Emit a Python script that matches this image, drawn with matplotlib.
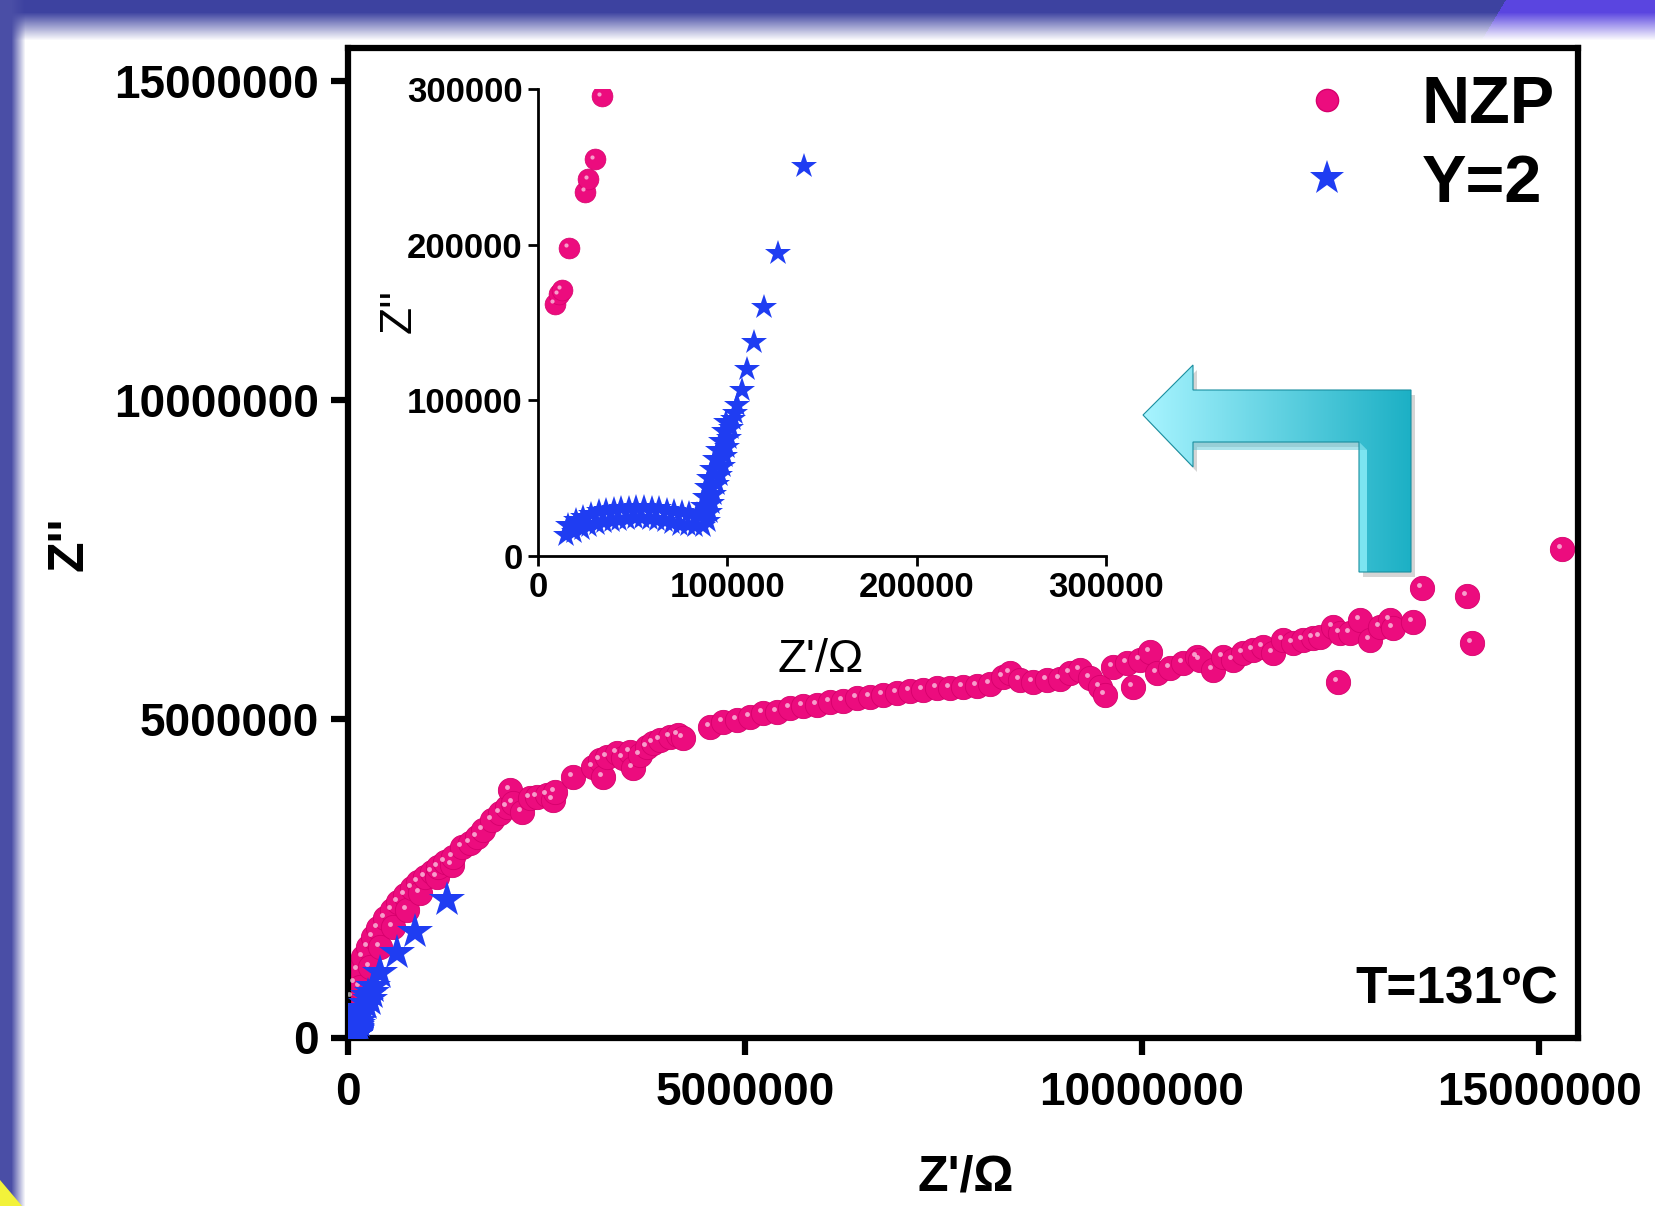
import numpy as np
import matplotlib
matplotlib.use("Agg")
import matplotlib.pyplot as plt
from matplotlib.patches import Polygon
from matplotlib.lines import Line2D
from matplotlib.ticker import FixedLocator, StrMethodFormatter
from matplotlib.transforms import offset_copy

plt.rcParams['font.family'] = ['Liberation Sans', 'DejaVu Sans']
plt.rcParams['font.weight'] = 'bold'

# === Data ===
# NZP: Z' and Z'' in ohm
nzp_x = [8930, 11040, 12500, 16290, 25070, 26430, 29950, 33800,
         25000, 46000, 88000, 130000, 151000, 193000, 256000, 277000, 319000, 382000,
         403000, 466000, 550000, 571000, 634000, 718000, 739000, 802000, 886000, 907000,
         970000, 1054000, 1117000, 1138000, 1222000, 1306000, 1327000, 1432000, 1537000,
         1621000, 1704000, 1810000, 1914000, 1998000, 2040000, 2082000, 2188000, 2292000,
         2376000, 2502000, 2586000, 2607000, 2837000,
         3089000, 3174000, 3215000, 3258000, 3384000, 3467000, 3551000, 3593000, 3677000,
         3762000, 3845000, 3929000, 4055000, 4160000, 4223000,
         4559000, 4727000, 4895000, 5063000, 5230000, 5399000, 5567000, 5734000, 5903000,
         6070000, 6238000, 6406000, 6574000, 6742000, 6910000, 7078000, 7245000, 7414000,
         7582000, 7749000, 7918000, 8085000, 8253000, 8337000, 8463000, 8631000, 8799000,
         8967000, 9093000, 9219000, 9345000, 9471000, 9534000, 9638000, 9807000, 9890000,
         9974000, 10100000, 10185000, 10352000, 10520000, 10689000,
         10730000, 10898000, 11024000, 11150000, 11276000, 11402000, 11528000, 11653000,
         11779000, 11905000, 12031000, 12157000, 12241000, 12409000, 12493000, 12619000,
         12745000, 12871000, 12997000, 13123000, 13165000, 13417000,
         12472000, 13522000, 14089000, 14152000, 15285000]
nzp_y = [161900, 168300, 171000, 198200, 234100, 242100, 254900, 295500,
         431000, 640000, 850000, 1059000, 797000, 1268000, 1425000, 1111000, 1582000, 1713000,
         1425000, 1870000, 2000000, 1739000, 2131000, 2236000, 2000000, 2341000, 2445000, 2262000,
         2523000, 2601000, 2523000, 2680000, 2758000, 2700000, 2837000, 2994000, 3046000,
         3150000, 3255000, 3412000, 3517000, 3621000, 3883000, 3674000, 3543000, 3753000,
         3778000, 3805000, 3726000, 3856000, 4092000,
         4249000, 4354000, 4092000, 4406000, 4459000, 4380000, 4484000, 4224000, 4432000,
         4563000, 4616000, 4668000, 4720000, 4746000, 4694000,
         4876000, 4955000, 4981000, 5033000, 5086000, 5112000, 5165000, 5201000, 5217000,
         5268000, 5284000, 5322000, 5338000, 5374000, 5400000, 5436000, 5452000, 5479000,
         5479000, 5504000, 5515000, 5546000, 5661000, 5714000, 5609000, 5582000, 5609000,
         5620000, 5714000, 5766000, 5636000, 5504000, 5374000, 5818000, 5871000, 5504000,
         5923000, 6053000, 5714000, 5793000, 5871000, 5975000,
         5923000, 5766000, 5975000, 5923000, 6028000, 6080000, 6132000, 6028000,
         6236000, 6184000, 6236000, 6263000, 6289000, 6446000, 6342000, 6342000,
         6550000, 6236000, 6446000, 6550000, 6420000, 6524000,
         5582000, 7048000, 6927000, 6194000, 7659000]

# Y=2
y2_x = [16000, 20000, 24000, 28000, 32000, 36000, 40000, 44000, 48000, 52000, 56000, 60000,
        64000, 68000, 72000, 76000, 80000, 84000,
        15000, 19000, 23000, 27000, 31000, 35000, 39000, 43000, 47000, 51000, 55000, 59000,
        63000, 67000, 71000, 75000, 79000, 83000, 87000,
        86000, 87000, 88000, 89000, 90500, 92000, 93500, 95000, 96500, 98000, 99500,
        90000, 91000, 92000, 93000, 94500, 96000, 97500, 99000, 100000, 101000, 102000, 103000,
        104000,
        105300, 107600, 110500, 114000, 119300, 126800, 140300,
        130000, 150000, 190000, 230000, 250000, 277000, 300000, 319000, 403000, 613000,
        844000, 1243000]
y2_y = [20000, 23000, 25000, 27000, 28500, 29500, 30000, 30500, 31000, 31500, 31500, 31000,
        30500, 29500, 28500, 28000, 27500, 27000,
        13500, 15500, 17000, 19000, 20500, 21500, 22500, 23000, 23500, 24000, 24000, 23500,
        23000, 22000, 21000, 20000, 19500, 19000, 19000,
        26000, 32000, 38000, 44000, 50000, 56000, 62000, 68000, 74000, 80000, 86000,
        22000, 28000, 34000, 40000, 46000, 52000, 58000, 64000, 70000, 76000, 82000, 88000,
        92000,
        96700, 106300, 120200, 137300, 160200, 195000, 250600,
        340000, 400000, 440000, 520000, 650000, 588000, 700000, 797000, 1007000, 1321000,
        1660000, 2157000]

main_ticks = [0, 5000000, 10000000, 15000000]
inset_ticks = [0, 100000, 200000, 300000]

PINK = '#EC0C7E'
BLUE = '#1F3DF2'

W, H = 1655, 1206
fig = plt.figure(figsize=(W / 100, H / 100), dpi=100)
fig.patch.set_facecolor('white')


def fx(x):
    return x / W


def fy(y):
    return 1 - y / H


# === Slide decorations (pixel space) ===
deco = fig.add_axes([0, 0, 1, 1], zorder=0)
deco.set_xlim(0, W)
deco.set_ylim(H, 0)
deco.axis('off')

top = np.zeros((45, W, 4))
rows = np.arange(45)[:, None]
cols = np.arange(W)[None, :]
purple = cols > (1505 - 0.6 * rows)
top[..., 0] = np.where(purple, 0x5a, 0x3d) / 255
top[..., 1] = np.where(purple, 0x45, 0x42) / 255
top[..., 2] = np.where(purple, 0xe0, 0xa0) / 255
top[..., 3] = np.clip((40 - rows) / 28, 0, 1) * np.ones_like(cols)
deco.imshow(top, extent=(0, W, 45, 0), aspect='auto', interpolation='bilinear', zorder=1)

left = np.zeros((H, 26, 4))
lc = np.arange(26)[None, :]
left[..., 0] = 0x4a / 255
left[..., 1] = 0x4e / 255
left[..., 2] = 0xa6 / 255
left[..., 3] = np.clip((25 - lc) / 14, 0, 1) * np.ones((H, 1))
deco.imshow(left, extent=(0, 26, H, 0), aspect='auto', interpolation='bilinear', zorder=1)
deco.add_patch(Polygon([(0, 1180), (0, H), (22, H)], closed=True, color='#F2F23A', lw=0, zorder=2))

# bent arrow with cyan gradient
arrow_pts = [(1143, 415), (1193, 365), (1193, 390), (1411, 390), (1411, 572),
             (1359, 572), (1359, 442), (1193, 442), (1193, 467)]
shadow = Polygon([(x + 4, y + 5) for x, y in arrow_pts], closed=True, color='#888888',
                 alpha=0.35, lw=0, zorder=2)
deco.add_patch(shadow)
arrow = Polygon(arrow_pts, closed=True, facecolor='none', edgecolor='#1a8fa0', lw=0.8, zorder=4)
deco.add_patch(arrow)
c0 = np.array([0xa8, 0xf4, 0xff]) / 255
c1 = np.array([0x1c, 0xb0, 0xc5]) / 255
tt = np.linspace(0, 1, 300)[None, :, None]
grad = c0 * (1 - tt) + c1 * tt
grad = np.repeat(grad, 2, axis=0)
im = deco.imshow(grad, extent=(1143, 1411, 572, 365), aspect='auto', zorder=3)
im.set_clip_path(arrow)
deco.add_patch(Polygon([(1359, 442), (1367, 450), (1367, 572), (1359, 572)], closed=True,
                       color='#8ff0fa', lw=0, alpha=0.8, zorder=3.5))
deco.add_patch(Polygon([(1193, 442), (1359, 442), (1367, 450), (1193, 450)], closed=True,
                       color='#5cc8d8', lw=0, alpha=0.5, zorder=3.5))

# === Main axes ===
ax = fig.add_axes([fx(348), fy(1037.5), (1578 - 348) / W, 990 / H], zorder=1)
ax.set_facecolor('none')
ax.set_xlim(0, 15490000)
ax.set_ylim(0, 15530000)

ax.plot(nzp_x, nzp_y, 'o', ms=17.5, color=PINK, mec='#D6006C', mew=0.6, zorder=2)
hl = offset_copy(ax.transData, fig=fig, x=-3, y=3, units='dots')
ax.plot(nzp_x, nzp_y, 'o', ms=3.5, color='white', alpha=0.6, mew=0, transform=hl, zorder=3)
ax.plot(y2_x, y2_y, '*', ms=27, color=BLUE, mew=0, zorder=4)

for s in ax.spines.values():
    s.set_linewidth(4.5)
ax.xaxis.set_major_locator(FixedLocator(main_ticks))
ax.yaxis.set_major_locator(FixedLocator(main_ticks))
ax.xaxis.set_major_formatter(StrMethodFormatter('{x:.0f}'))
ax.yaxis.set_major_formatter(StrMethodFormatter('{x:.0f}'))
ax.tick_params(direction='out', length=12, width=4.5, labelsize=33)
ax.tick_params(axis='x', pad=12)
ax.tick_params(axis='y', pad=9)

fig.text(fx(966), fy(1177), "Z'/\u03a9", fontsize=36, fontweight='bold', ha='center', va='center')
fig.text(fx(69), fy(544), "Z''", fontsize=36, fontweight='bold', rotation=90,
         ha='center', va='center')
fig.text(fx(1558), fy(990), "T=131\u00baC", fontsize=37, fontweight='bold', ha='right', va='center')

handles = [Line2D([], [], ls='none', marker='o', ms=16, color=PINK, mec='#D6006C'),
           Line2D([], [], ls='none', marker='*', ms=26, color=BLUE, mew=0)]
ax.legend(handles, ['NZP', 'Y=2'], loc='upper left', bbox_to_anchor=(fx(1294), fy(75)),
          bbox_transform=fig.transFigure, frameon=False, borderpad=0, borderaxespad=0,
          handlelength=1.0, handletextpad=0.92, labelspacing=0.25,
          prop={'size': 48, 'weight': 'bold'})

# === Inset ===
ins = fig.add_axes([fx(538), fy(555.7), (1106 - 538) / W, (555.7 - 89.3) / H], zorder=2)
ins.set_facecolor('none')
ins.set_xlim(0, 300000)
ins.set_ylim(0, 300000)
ins.plot(nzp_x, nzp_y, 'o', ms=15, color=PINK, mec='#D6006C', mew=0.5, zorder=2)
hl2 = offset_copy(ins.transData, fig=fig, x=-2.5, y=2.5, units='dots')
ins.plot(nzp_x, nzp_y, 'o', ms=3, color='white', alpha=0.6, mew=0, transform=hl2, zorder=3)
ins.plot(y2_x, y2_y, '*', ms=19, color=BLUE, mew=0, zorder=4)
ins.spines['top'].set_visible(False)
ins.spines['right'].set_visible(False)
for s in ('left', 'bottom'):
    ins.spines[s].set_linewidth(2)
ins.xaxis.set_major_locator(FixedLocator(inset_ticks))
ins.yaxis.set_major_locator(FixedLocator(inset_ticks))
ins.xaxis.set_major_formatter(StrMethodFormatter('{x:.0f}'))
ins.yaxis.set_major_formatter(StrMethodFormatter('{x:.0f}'))
ins.tick_params(direction='out', length=7, width=2, labelsize=25, pad=4)

fig.text(fx(821), fy(660), "Z'/\u03a9", fontsize=34, fontweight='normal', ha='center', va='center')
fig.text(fx(399), fy(311), "Z''", fontsize=32, fontweight='normal', rotation=90,
         ha='center', va='center')

fig.savefig('out.png', dpi=100)
